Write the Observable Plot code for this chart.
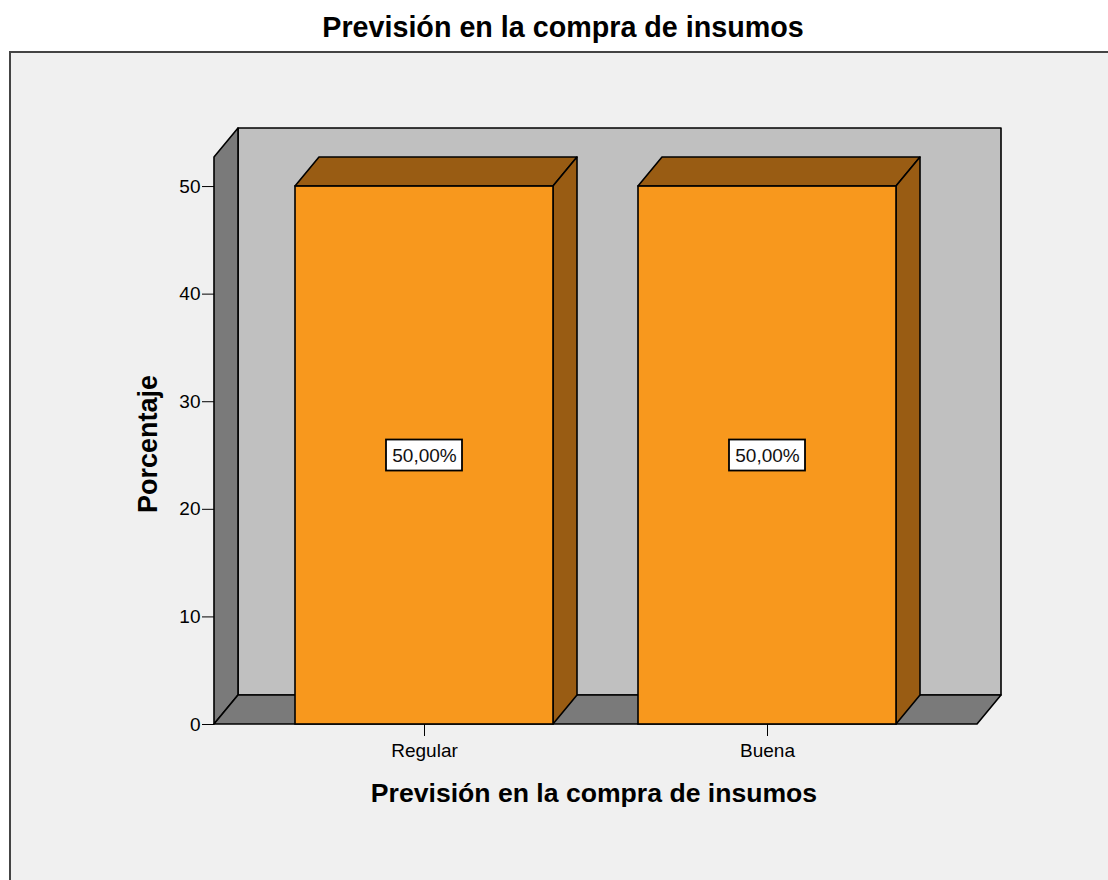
<!DOCTYPE html>
<html>
<head>
<meta charset="utf-8">
<script src="https://cdn.jsdelivr.net/npm/d3@7"></script>
<script src="https://cdn.jsdelivr.net/npm/@observablehq/plot@0.6"></script>
<style>
  html, body { margin: 0; padding: 0; background: #fff; overflow: hidden; width: 1108px; height: 880px; }
  #title {
    height: 51px; box-sizing: border-box; padding-top: 13px; padding-left: 18px;
    text-align: center; white-space: nowrap; color: #000;
    font: bold 28.7px "Liberation Sans", Arial, sans-serif; line-height: 1;
  }
  #panel {
    margin-left: 9px; width: 1120px; height: 840px;
    border-left: 2px solid #444; border-top: 2px solid #444; background: #f0f0f0;
  }
  #panel svg { display: block; }
</style>
</head>
<body>
<div id="title">Previsión en la compra de insumos</div>
<div id="panel"></div>
<script>
// Data
const categories = ["Regular", "Buena"];
const percentages = [50, 50];
const yTicks = [0, 10, 20, 30, 40, 50];
const yTop = 52.7;            // top of the chart walls, in percent
const xTitle = "Previsión en la compra de insumos";
const yTitle = "Porcentaje";

const rows = categories.map((c, i) => ({category: c, value: percentages[i]}));
const fmt = v => v.toFixed(2).replace(".", ",") + "%";

// Pseudo-3D look
const DX = 24, DY = 29;
const barFill = "#f8981d", barShade = "#995c13";
const wallFill = "#c0c0c0", sideFill = "#7a7a7a";
const edge = {stroke: "#000", width: 1.6};

function bandwidthOf(scales) {
  const x = scales.x;
  if (typeof x.bandwidth === "function") return x.bandwidth();
  return scales.scales.x.bandwidth;
}

// Back wall, left wall and floor
function walls(index, scales, values, dims) {
  const x0 = dims.marginLeft, x1 = dims.width - dims.marginRight;
  const yb = scales.y(0), yt = scales.y(yTop);
  const g = d3.create("svg:g")
    .attr("stroke", edge.stroke).attr("stroke-width", edge.width).attr("stroke-linejoin", "round");
  g.append("rect")
    .attr("x", x0 + DX).attr("y", yt - DY).attr("width", x1 - x0).attr("height", yb - yt)
    .attr("fill", wallFill);
  g.append("path")
    .attr("d", `M${x0},${yt}L${x0 + DX},${yt - DY}V${yb - DY}L${x0},${yb}Z`)
    .attr("fill", sideFill);
  g.append("path")
    .attr("d", `M${x0},${yb}L${x0 + DX},${yb - DY}H${x1 + DX}L${x1},${yb}Z`)
    .attr("fill", sideFill);
  return g.node();
}

// Top and right side faces of each bar
function barDepth(index, scales, values, dims) {
  const bw = bandwidthOf(scales);
  const y0 = scales.y(0);
  const g = d3.create("svg:g")
    .attr("stroke", edge.stroke).attr("stroke-width", edge.width).attr("stroke-linejoin", "round")
    .attr("fill", barShade);
  rows.forEach(d => {
    const xa = scales.x(d.category), xb = xa + bw, yv = scales.y(d.value);
    g.append("path").attr("d", `M${xa},${yv}L${xa + DX},${yv - DY}H${xb + DX}L${xb},${yv}Z`);
    g.append("path").attr("d", `M${xb},${yv}L${xb + DX},${yv - DY}V${y0 - DY}L${xb},${y0}Z`);
  });
  return g.node();
}

// White boxes behind the value labels
function labelBoxes(index, scales, values, dims) {
  const bw = bandwidthOf(scales);
  const w = 76, h = 31;
  const g = d3.create("svg:g")
    .attr("fill", "#fff").attr("stroke", "#000").attr("stroke-width", 1.8);
  rows.forEach(d => {
    const cx = scales.x(d.category) + bw / 2, cy = scales.y(d.value / 2);
    g.append("rect").attr("x", cx - w / 2).attr("y", cy - h / 2).attr("width", w).attr("height", h);
  });
  return g.node();
}

const chart = Plot.plot({
  width: 1097,
  height: 827,
  marginLeft: 203,
  marginRight: 131,
  marginTop: 104,
  marginBottom: 156,
  style: {
    background: "transparent",
    fontFamily: "'Liberation Sans', Arial, sans-serif",
    fontSize: "19px",
    color: "#000",
    overflow: "visible"
  },
  x: {domain: categories, paddingInner: 0.249, paddingOuter: 0.235, label: null, tickSize: 12, tickPadding: 7},
  y: {domain: [0, yTop], ticks: yTicks, tickSize: 12, tickPadding: 2, label: null},
  marks: [
    walls,
    barDepth,
    Plot.barY(rows, {x: "category", y: "value", fill: barFill, stroke: edge.stroke, strokeWidth: edge.width}),
    labelBoxes,
    Plot.text(rows, {x: "category", y: d => d.value / 2, text: d => fmt(d.value), fontSize: 19, fill: "#111"}),
    Plot.text([yTitle], {text: d => d, frameAnchor: "left", textAnchor: "middle", lineAnchor: "middle",
      rotate: -90, dx: -66, dy: 3, fontSize: 27, fontWeight: "bold", fill: "#000"}),
    Plot.text([xTitle], {text: d => d, frameAnchor: "bottom", textAnchor: "middle", lineAnchor: "top",
      dx: -2, dy: 59, fontSize: 26.6, fontWeight: "bold", fill: "#000"})
  ]
});

document.getElementById("panel").appendChild(chart);
</script>
</body>
</html>
